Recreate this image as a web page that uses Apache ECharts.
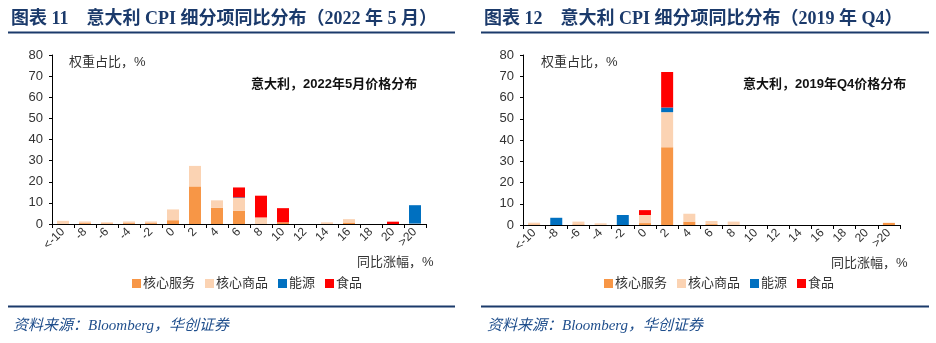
<!DOCTYPE html>
<html><head><meta charset="utf-8">
<script src="https://cdn.jsdelivr.net/npm/echarts@6/dist/echarts.min.js"></script>
<style>html,body{margin:0;padding:0;background:#fff}#c{width:936px;height:343px}</style>
</head><body><div id="c"></div>
<script>
const categories = ['<-10','-8','-6','-4','-2','0','2','4','6','8','10','12','14','16','18','20','>20'];
const seriesNames = ['核心服务','核心商品','能源','食品'];
const yTicks = [0,10,20,30,40,50,60,70,80];
// 2022年5月
const services2022 = [0,0.4,0.3,0.4,0.4,1.8,17.8,7.7,6.2,0,0.8,0,0,0.7,0,0,0];
const goods2022    = [1.5,0.8,0.5,0.8,0.8,5.1,9.7,3.5,6.1,3.1,0,0,0.8,1.6,0,0,0.2];
const energy2022   = [0,0,0,0,0,0,0,0,0.3,0,0,0,0,0,0,0,8.7];
const food2022     = [0,0,0,0,0,0,0,0,4.7,10.3,6.7,0,0,0,0,1.1,0];
// 2019年Q4
const services2019 = [0.3,0,0.3,0,0,0.9,36.6,1.6,0.4,0,0,0,0,0,0,0,1.0];
const goods2019    = [0.8,0,1.3,0.8,0,3.8,16.5,3.7,1.5,1.6,0,0,0,0,0,0,0];
const energy2019   = [0,3.4,0,0,4.7,0,2.2,0,0,0,0,0,0,0,0,0,0];
const food2019     = [0,0,0,0,0,2.3,16.7,0,0,0,0,0,0,0,0,0,0];

const colors = ['#F79646','#FBD3B3','#0070C0','#FF0000'];
const navy = '#1B3A6B';
const cjk = '"Liberation Sans","Noto Sans CJK SC",sans-serif';
const serif = '"Liberation Serif","Noto Sans CJK SC",serif';

function xAxis(idx){
  return {type:'category', gridIndex:idx, data:categories,
    axisLine:{lineStyle:{color:'#000',width:1}},
    axisTick:{show:true,alignWithLabel:false,interval:0,length:4,lineStyle:{color:'#000'}},
    axisLabel:{interval:0,rotate:45,fontSize:12,color:'#333',margin:6,fontFamily:'"Liberation Sans",sans-serif'}};
}
function yAxis(idx){
  return {type:'value', gridIndex:idx, min:0, max:80, interval:10,
    axisLine:{show:true,lineStyle:{color:'#000'}},
    axisTick:{show:true,length:3,lineStyle:{color:'#000'}},
    splitLine:{show:false},
    axisLabel:{fontSize:13,color:'#333',margin:9,fontFamily:'"Liberation Sans",sans-serif',
      formatter:v=>yTicks.includes(v)?String(v):''}};
}
function bars(idx, arrs){
  return arrs.map((d,i)=>({type:'bar',name:seriesNames[i],xAxisIndex:idx,yAxisIndex:idx,
    stack:'s'+idx,data:d,barWidth:12,itemStyle:{color:colors[i]},emphasis:{disabled:true}}));
}
function legend(left){
  return {data:seriesNames,left:left,top:272,itemWidth:9,itemHeight:9,itemGap:10,
    icon:'rect',textStyle:{fontSize:13,color:'#333',fontFamily:cjk,padding:[0,0,0,-3]}};
}
function t(text,left,top,opts){
  return Object.assign({text:text,left:left,top:top,textStyle:Object.assign({fontSize:13,color:'#222',fontWeight:'normal',fontFamily:cjk},opts||{})});
}

const chart = echarts.init(document.getElementById('c'));
chart.setOption({
  animation:false,
  color:colors,
  grid:[{left:52,right:510,top:55,bottom:119,containLabel:false},
        {left:523,right:36,top:55,bottom:118,containLabel:false}],
  xAxis:[xAxis(0),xAxis(1)],
  yAxis:[yAxis(0),yAxis(1)],
  legend:[legend(127),legend(599)],
  title:[
    t('图表 11    意大利 CPI 细分项同比分布（2022 年 5 月）',6,5,{fontSize:18,fontWeight:'bold',color:navy,fontFamily:serif}),
    t('图表 12    意大利 CPI 细分项同比分布（2019 年 Q4）',479,5,{fontSize:18,fontWeight:'bold',color:navy,fontFamily:serif}),
    t('权重占比，%',64,51,{fontSize:13,color:'#333'}),
    t('权重占比，%',536,51,{fontSize:13,color:'#333'}),
    t('意大利，2022年5月价格分布',246,73,{fontSize:13,fontWeight:'bold',color:'#111'}),
    t('意大利，2019年Q4价格分布',738,73,{fontSize:13,fontWeight:'bold',color:'#111'}),
    t('同比涨幅，%',352,251,{fontSize:13,color:'#333'}),
    t('同比涨幅，%',826,252,{fontSize:13,color:'#333'}),
    t('资料来源：Bloomberg，华创证券',8,314,{fontSize:15,fontStyle:'italic',color:'#1F4E8C',fontFamily:serif}),
    t('资料来源：Bloomberg，华创证券',482,314,{fontSize:15,fontStyle:'italic',color:'#1F4E8C',fontFamily:serif})
  ],
  graphic:[
    {type:'line',shape:{x1:8,y1:32.5,x2:455,y2:32.5},style:{stroke:navy,lineWidth:2}},
    {type:'line',shape:{x1:481,y1:32.5,x2:929,y2:32.5},style:{stroke:navy,lineWidth:2}},
    {type:'line',shape:{x1:8,y1:306.5,x2:455,y2:306.5},style:{stroke:navy,lineWidth:2}},
    {type:'line',shape:{x1:481,y1:306.5,x2:929,y2:306.5},style:{stroke:navy,lineWidth:2}}
  ],
  series:[...bars(0,[services2022,goods2022,energy2022,food2022]),
          ...bars(1,[services2019,goods2019,energy2019,food2019])]
});
</script></body></html>
